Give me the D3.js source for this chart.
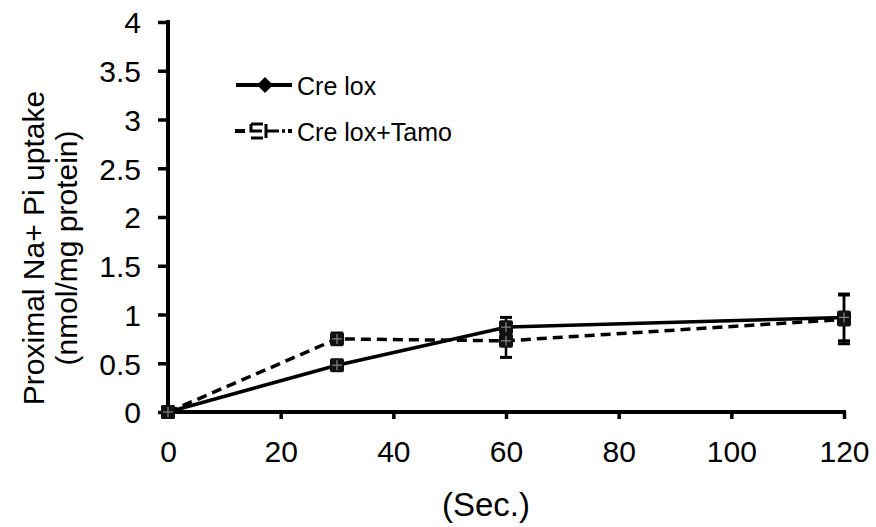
<!DOCTYPE html>
<html><head><meta charset="utf-8">
<script src="https://cdn.jsdelivr.net/npm/d3@7"></script>
<style>body{margin:0;background:#fff}text{font-family:"Liberation Sans",Arial,sans-serif;fill:#000}</style>
</head><body><svg id="c" width="876" height="527"></svg>
<script>
const times = [0, 30, 60, 120];
const creLox = [0, 0.48, 0.87, 0.97];
const creLoxErr = [0.03, 0.05, 0.1, 0.24];
const creLoxTamo = [0, 0.75, 0.73, 0.95];
const creLoxTamoErr = [0.03, 0.06, 0.17, 0.25];
const xTicks = [0, 20, 40, 60, 80, 100, 120];
const yTicks = [0, 0.5, 1, 1.5, 2, 2.5, 3, 3.5, 4];
const seriesNames = ["Cre lox", "Cre lox+Tamo"];

const svg = d3.select("#c");
const x = d3.scaleLinear().domain([0, 120]).range([168, 844]);
const y = d3.scaleLinear().domain([0, 4]).range([412, 22]);

// axes
const yAx = svg.append("g").attr("transform","translate(168,0)")
  .call(d3.axisLeft(y).tickValues(yTicks).tickSize(10).tickSizeOuter(0).tickPadding(17).tickFormat(d=>d));
yAx.select(".domain").attr("stroke-width",4).attr("d","M0,20V412");
yAx.selectAll(".tick line").attr("stroke-width",3.5);
yAx.selectAll("text").style("font-size","30px").attr("dy","0.36em");

const xAx = svg.append("g").attr("transform","translate(0,412)")
  .call(d3.axisBottom(x).tickValues(xTicks).tickSize(7).tickSizeOuter(0).tickPadding(22).tickFormat(d=>d));
xAx.select(".domain").attr("stroke-width",4).attr("d","M166,0H846");
xAx.selectAll(".tick line").attr("stroke-width",3.5);
xAx.selectAll("text").style("font-size","30px");

// titles
svg.append("text").attr("x",486).attr("y",516).attr("text-anchor","middle").style("font-size","33px").text("(Sec.)");
const yt = svg.append("text").attr("transform","translate(0,248) rotate(-90)").attr("text-anchor","middle").style("font-size","30px");
yt.append("tspan").attr("x",0).attr("y",44).text("Proximal Na+ Pi uptake");
yt.append("tspan").attr("x",0).attr("y",77).text("(nmol/mg protein)");

const line = d3.line().x((d,i)=>x(times[i])).y(d=>y(d));

function errorBars(vals, errs){
  const g = svg.append("g").attr("stroke","#000").attr("stroke-width",2.5);
  vals.forEach((v,i)=>{
    const cx = x(times[i]);
    g.append("line").attr("x1",cx).attr("x2",cx).attr("y1",y(v+errs[i])).attr("y2",y(v-errs[i]));
    g.append("line").attr("x1",cx-6).attr("x2",cx+6).attr("y1",y(v+errs[i])).attr("y2",y(v+errs[i])).attr("stroke-width",3);
    g.append("line").attr("x1",cx-6).attr("x2",cx+6).attr("y1",y(v-errs[i])).attr("y2",y(v-errs[i])).attr("stroke-width",3);
  });
}

// Tamo series (dashed)
svg.append("path").datum(creLoxTamo).attr("d",line).attr("fill","none").attr("stroke","#000")
  .attr("stroke-width",3.5).attr("stroke-dasharray","10,6");
errorBars(creLoxTamo, creLoxTamoErr);
// Cre lox (solid)
svg.append("path").datum(creLox).attr("d",line).attr("fill","none").attr("stroke","#000").attr("stroke-width",3.5);
errorBars(creLox, creLoxErr);

function squareMarker(g, cx, cy){
  g.append("rect").attr("x",cx-7).attr("y",cy-7).attr("width",14).attr("height",14).attr("rx",2).attr("fill","#111");
  g.append("line").attr("x1",cx-5).attr("x2",cx+5).attr("y1",cy).attr("y2",cy).attr("stroke","#888").attr("stroke-width",1.2);
  g.append("line").attr("x1",cx).attr("x2",cx).attr("y1",cy-5).attr("y2",cy+5).attr("stroke","#888").attr("stroke-width",1.2);
}
const mg = svg.append("g");
creLoxTamo.forEach((v,i)=>squareMarker(mg, x(times[i]), y(v)));
creLox.forEach((v,i)=>squareMarker(mg, x(times[i]), y(v)));

// legend
const lg = svg.append("g");
lg.append("line").attr("x1",236).attr("x2",292).attr("y1",85).attr("y2",85).attr("stroke","#000").attr("stroke-width",4);
lg.append("path").attr("d","M265,77L273,85L265,93L257,85Z").attr("fill","#000");
lg.append("text").attr("x",297).attr("y",95).style("font-size","25px").text(seriesNames[0]);
lg.append("line").attr("x1",235).attr("x2",245).attr("y1",131).attr("y2",131).attr("stroke","#000").attr("stroke-width",4);
const lm = lg.append("g").attr("fill","none").attr("stroke","#000").attr("stroke-width",3);
lm.append("path").attr("d","M251,124H263M251,124V131H262M251,138H263");
lm.append("path").attr("d","M266,124V138M266,131H279");
lg.append("line").attr("x1",282).attr("x2",285).attr("y1",131).attr("y2",131).attr("stroke","#000").attr("stroke-width",3.5);
lg.append("rect").attr("x",288).attr("y",129).attr("width",4).attr("height",4).attr("fill","#000");
lg.append("text").attr("x",297).attr("y",141).style("font-size","25px").text(seriesNames[1]);
</script></body></html>
